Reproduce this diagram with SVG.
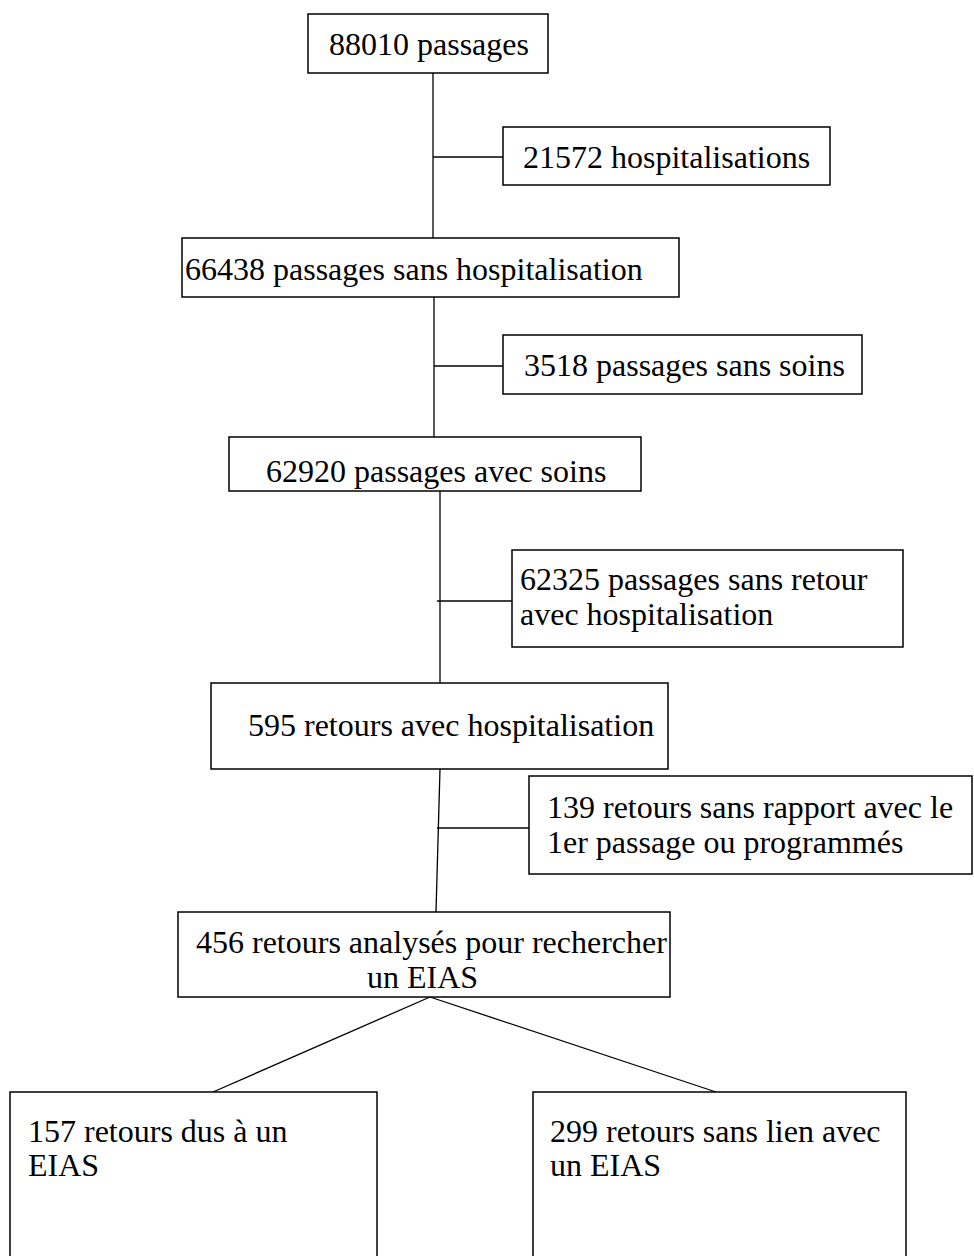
<svg xmlns="http://www.w3.org/2000/svg" width="974" height="1256" viewBox="0 0 974 1256">
<style>
.box{fill:#fff;stroke:#000;stroke-width:1.5}
.ln{stroke:#000;stroke-width:1.3;fill:none}
text{font-family:"Liberation Serif","Times New Roman",serif;font-size:32px;fill:#000}
</style>
<rect width="974" height="1256" fill="#fff"/>
<g id="connectors">
<line class="ln" x1="433" y1="73" x2="433" y2="238"/>
<line class="ln" x1="433" y1="157" x2="503" y2="157"/>
<line class="ln" x1="434" y1="297" x2="434" y2="437"/>
<line class="ln" x1="434" y1="366" x2="503" y2="366"/>
<line class="ln" x1="440" y1="491" x2="440" y2="683"/>
<line class="ln" x1="437" y1="601" x2="512" y2="601"/>
<line class="ln" x1="440" y1="769" x2="436" y2="912"/>
<line class="ln" x1="437" y1="828" x2="529" y2="828"/>
<line class="ln" x1="430" y1="997" x2="213" y2="1092"/>
<line class="ln" x1="430" y1="997" x2="716" y2="1092"/>
</g>
<g id="n1"><rect class="box" x="308" y="14" width="240" height="59"/><text x="329" y="55">88010 passages</text></g>
<g id="n2"><rect class="box" x="503" y="127" width="327" height="58"/><text x="523" y="168">21572 hospitalisations</text></g>
<g id="n3"><rect class="box" x="182" y="238" width="497" height="59"/><text x="185" y="280">66438 passages sans hospitalisation</text></g>
<g id="n4"><rect class="box" x="503" y="335" width="359" height="59"/><text x="524" y="376">3518 passages sans soins</text></g>
<g id="n5"><rect class="box" x="229" y="437" width="412" height="54"/><text x="266" y="482">62920 passages avec soins</text></g>
<g id="n6"><rect class="box" x="512" y="550" width="391" height="97"/><text x="520" y="590">62325 passages sans retour</text><text x="520" y="625">avec hospitalisation</text></g>
<g id="n7"><rect class="box" x="211" y="683" width="457" height="86"/><text x="248" y="736">595 retours avec hospitalisation</text></g>
<g id="n8"><rect class="box" x="529" y="776" width="443" height="98"/><text x="547" y="818">139 retours sans rapport avec le</text><text x="547" y="853">1er passage ou programmés</text></g>
<g id="n9"><rect class="box" x="178" y="912" width="492" height="85"/><text x="196" y="953">456 retours analysés pour rechercher</text><text x="367" y="988">un EIAS</text></g>
<g id="n10"><rect class="box" x="10" y="1092" width="367" height="170"/><text x="28" y="1142">157 retours dus à un</text><text x="28" y="1176">EIAS</text></g>
<g id="n11"><rect class="box" x="533" y="1092" width="373" height="170"/><text x="550" y="1142">299 retours sans lien avec</text><text x="550" y="1176">un EIAS</text></g>
</svg>
